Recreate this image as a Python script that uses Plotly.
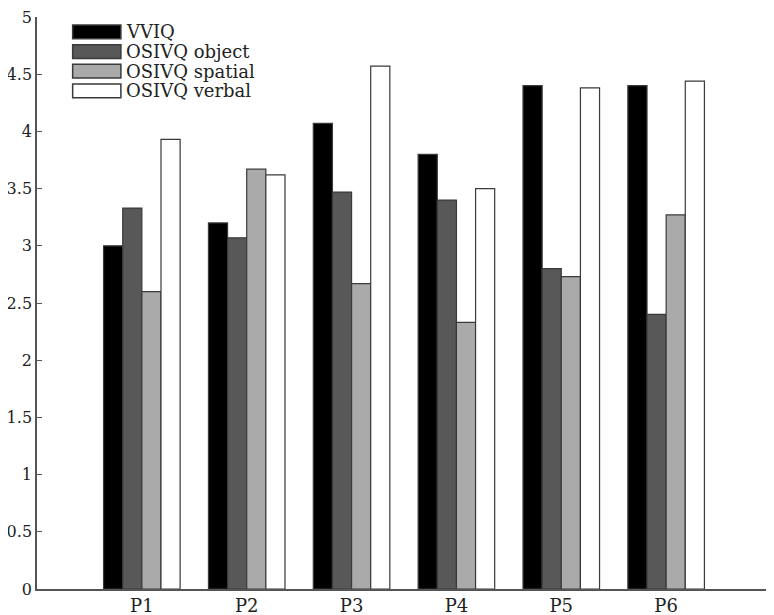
import plotly.graph_objects as go

# participantes e escores
participants = ["P1", "P2", "P3", "P4", "P5", "P6"]
vviq = [3.0, 3.2, 4.07, 3.8, 4.4, 4.4]
osivq_object = [3.33, 3.07, 3.47, 3.4, 2.8, 2.4]
osivq_spatial = [2.6, 3.67, 2.67, 2.33, 2.73, 3.27]
osivq_verbal = [3.93, 3.62, 4.57, 3.5, 4.38, 4.44]

x_pos = list(range(1, len(participants) + 1))

series = [
    ("VVIQ", vviq, "#000000"),
    ("OSIVQ object", osivq_object, "#585858"),
    ("OSIVQ spatial", osivq_spatial, "#aaaaaa"),
    ("OSIVQ verbal", osivq_verbal, "#ffffff"),
]

font_family = "DejaVu Serif"
outline = "#3a3a3a"

fig = go.Figure()
for name, values, color in series:
    fig.add_trace(go.Bar(
        x=x_pos,
        y=values,
        name=name,
        marker=dict(color=color, line=dict(color=outline, width=1.2)),
    ))

# legenda desenhada a mao (caixas largas como no original)
leg_x0, leg_x1, leg_top, leg_step, leg_h = 0.34, 0.80, 4.93, 0.172, 0.12
for i, (name, _, color) in enumerate(series):
    y_top = leg_top - i * leg_step
    fig.add_shape(
        type="rect", xref="x", yref="y",
        x0=leg_x0, x1=leg_x1, y0=y_top - leg_h, y1=y_top,
        fillcolor=color, line=dict(color=outline, width=1.5),
    )
    fig.add_annotation(
        x=leg_x1 + 0.03, y=y_top - leg_h / 2, xref="x", yref="y",
        text=name, showarrow=False, xanchor="left", yanchor="middle",
        font=dict(family=font_family, size=18, color="#222222"),
    )

fig.update_layout(
    barmode="group",
    bargap=0.27,
    bargroupgap=0,
    width=774,
    height=615,
    margin=dict(l=29, r=11, t=9, b=34),
    plot_bgcolor="white",
    paper_bgcolor="white",
    font=dict(family=font_family, size=16, color="#222222"),
    showlegend=False,
)

fig.update_xaxes(
    range=[0, 7],
    tickvals=x_pos,
    ticktext=participants,
    tickfont=dict(size=18),
    showline=True,
    linecolor="#555555",
    linewidth=1.5,
    ticks="",
    showgrid=False,
    zeroline=False,
    automargin=False,
)

fig.update_yaxes(
    range=[0, 5],
    dtick=0.5,
    showline=True,
    linecolor="#555555",
    linewidth=1.5,
    ticks="inside",
    ticklen=5,
    tickcolor="#555555",
    showgrid=False,
    zeroline=False,
    automargin=False,
    ticklabeloverflow="allow",
)

fig.write_html("out.html")
